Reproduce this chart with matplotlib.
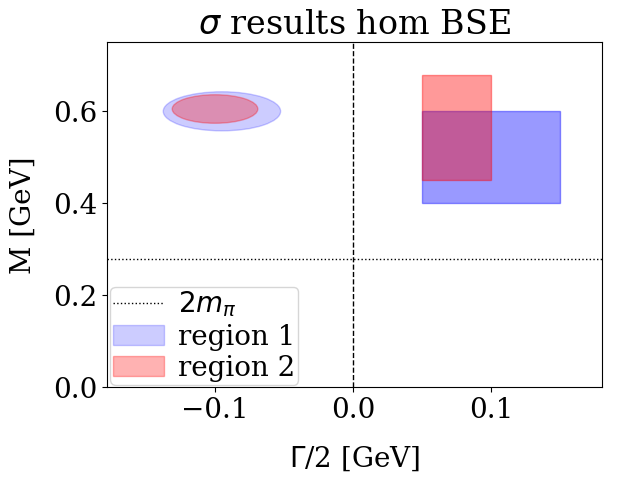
import matplotlib
matplotlib.use("Agg")
import matplotlib.pyplot as plt
from matplotlib.patches import Ellipse, Rectangle

plt.rcParams["font.family"] = "serif"
plt.rcParams["font.size"] = 20

# ---------- data ----------
two_m_pi = 0.28
# ellipses: (centre x, centre y, width, height)
ell_region1 = (-0.095, 0.60, 0.085, 0.085)
ell_region2 = (-0.10, 0.605, 0.062, 0.062)
# boxes: (x0, y0, dx, dy)
box_region1 = (0.05, 0.40, 0.10, 0.20)
box_region2 = (0.05, 0.45, 0.05, 0.23)

fig, ax = plt.subplots(figsize=(6.4, 4.8), dpi=100)

ax.axvline(0.0, color="k", ls="--", lw=1)
ax.axhline(two_m_pi, color="k", ls=":", lw=1, label=r"$2m_\pi$")

ax.add_patch(Ellipse(ell_region1[:2], ell_region1[2], ell_region1[3],
                     color="blue", alpha=0.2, label="region 1"))
ax.add_patch(Ellipse(ell_region2[:2], ell_region2[2], ell_region2[3],
                     color="red", alpha=0.3, label="region 2"))
ax.add_patch(Rectangle(box_region1[:2], box_region1[2], box_region1[3],
                       color="blue", alpha=0.4))
ax.add_patch(Rectangle(box_region2[:2], box_region2[2], box_region2[3],
                       color="red", alpha=0.4))

ax.set_xlim(-0.178, 0.18)
ax.set_ylim(0, 0.75)
ax.set_xticks([-0.1, 0.0, 0.1])
ax.set_yticks([0.0, 0.2, 0.4, 0.6])
ax.set_xlabel(r"$\Gamma$/2 [GeV]", labelpad=15)
ax.set_ylabel("M [GeV]", labelpad=12)
ax.set_title(r"$\sigma$ results hom BSE")
ax.legend(loc="lower left", borderaxespad=0.1, handlelength=1.85,
          labelspacing=0.15, borderpad=0.1, handletextpad=0.5)

fig.subplots_adjust(left=107.3/640, right=601.7/640,
                    top=1 - 42.3/480, bottom=1 - 387.3/480)
plt.savefig("out.png")
